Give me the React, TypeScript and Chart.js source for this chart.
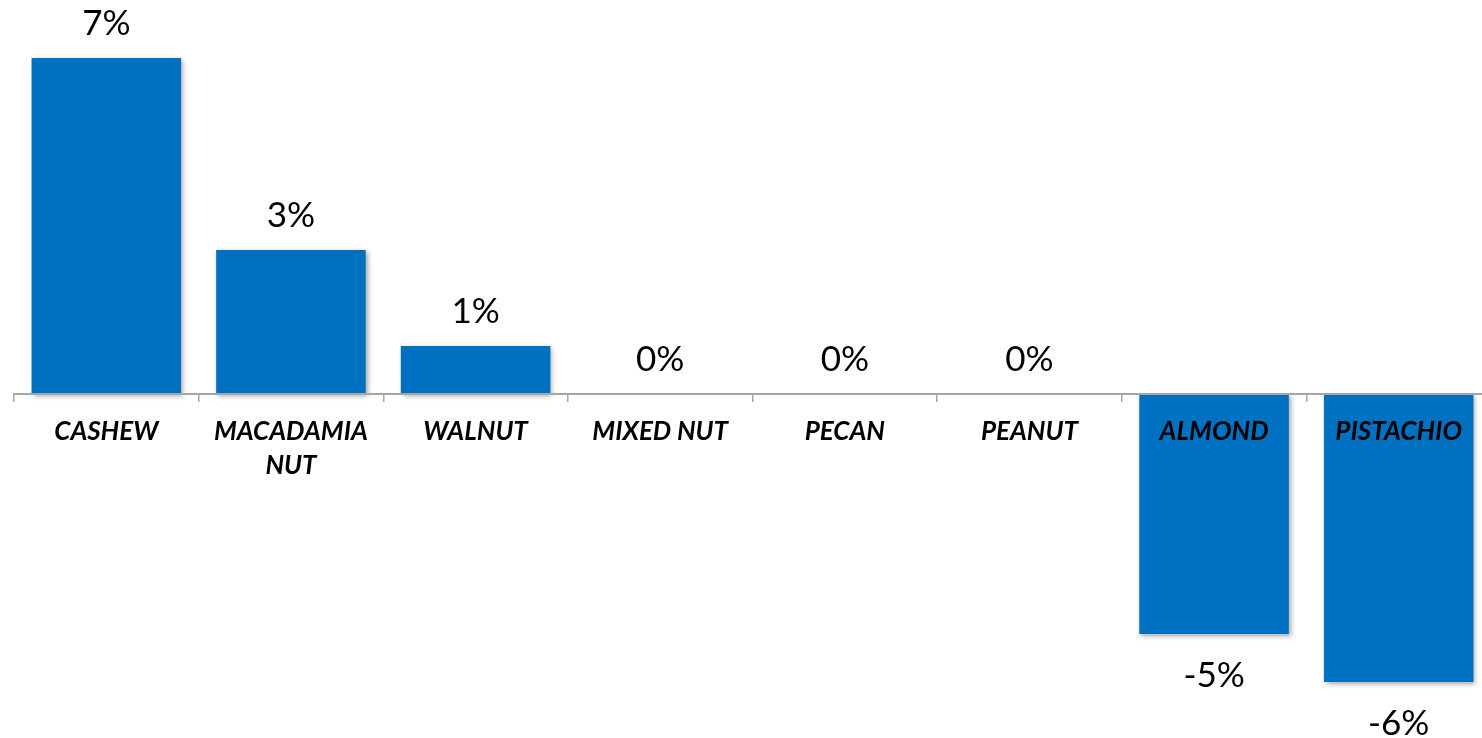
import React, { useEffect, useRef } from 'react';
import { Chart, registerables } from 'chart.js';

Chart.register(...registerables);

const categories: (string | string[])[] = [
  'CASHEW',
  ['MACADAMIA', 'NUT'],
  'WALNUT',
  'MIXED NUT',
  'PECAN',
  'PEANUT',
  'ALMOND',
  'PISTACHIO',
];
const values: number[] = [7, 3, 1, 0, 0, 0, -5, -6];
const valueLabels: string[] = ['7%', '3%', '1%', '0%', '0%', '0%', '-5%', '-6%'];

const BAR_COLOR = '#0070C0';
const AXIS_COLOR = '#A6A6A6';

const shadowPlugin = {
  id: 'barShadow',
  beforeDatasetDraw(chart: any) {
    const ctx = chart.ctx;
    ctx.save();
    ctx.shadowColor = 'rgba(0,0,0,0.35)';
    ctx.shadowBlur = 5;
    ctx.shadowOffsetX = 2;
    ctx.shadowOffsetY = 2;
  },
  afterDatasetDraw(chart: any) {
    chart.ctx.restore();
  },
};

const valueLabelPlugin = {
  id: 'valueLabels',
  afterDatasetsDraw(chart: any) {
    const ctx = chart.ctx;
    const meta = chart.getDatasetMeta(0);
    ctx.save();
    ctx.font = 'normal 35px Lato';
    ctx.fillStyle = '#000000';
    ctx.textAlign = 'center';
    ctx.textBaseline = 'middle';
    meta.data.forEach((bar: any, i: number) => {
      const v = values[i];
      const y = v >= 0 ? bar.y - 34 : bar.y + 42;
      ctx.fillText(valueLabels[i], bar.x, y);
    });
    ctx.restore();
  },
};

export default function App() {
  const canvasRef = useRef<HTMLCanvasElement | null>(null);

  useEffect(() => {
    if (!canvasRef.current) return;
    const chart = new Chart(canvasRef.current, {
      type: 'bar',
      data: {
        labels: categories,
        datasets: [
          {
            data: values,
            backgroundColor: BAR_COLOR,
            borderWidth: 0,
            categoryPercentage: 1,
            barPercentage: 0.81,
          },
        ],
      },
      options: {
        animation: false,
        responsive: true,
        maintainAspectRatio: false,
        layout: { padding: { left: 14, right: 9, top: 10, bottom: 8 } },
        plugins: {
          legend: { display: false },
          tooltip: { enabled: false },
        },
        scales: {
          x: {
            position: { y: 0 } as any,
            grid: {
              display: true,
              drawOnChartArea: false,
              drawTicks: true,
              tickLength: 7,
              color: AXIS_COLOR,
              lineWidth: 1.5,
              z: 1,
            } as any,
            border: { display: true, color: AXIS_COLOR, width: 2, z: 1 } as any,
            ticks: {
              color: '#000000',
              padding: 14,
              maxRotation: 0,
              autoSkip: false,
              z: 2,
              font: { family: 'Lato', size: 26, weight: 'bold', style: 'italic', lineHeight: '34px' } as any,
            },
          },
          y: {
            display: false,
            min: -7,
            max: 8,
          },
        },
      },
      plugins: [shadowPlugin, valueLabelPlugin],
    });
    return () => chart.destroy();
  }, []);

  return (
    <div style={{ position: 'fixed', left: 0, top: 0, width: 1482, height: 738, overflow: 'hidden', background: '#fff' }}>
      <div style={{ position: 'relative', width: 1500, height: 738 }}>
        <canvas ref={canvasRef} />
      </div>
    </div>
  );
}
